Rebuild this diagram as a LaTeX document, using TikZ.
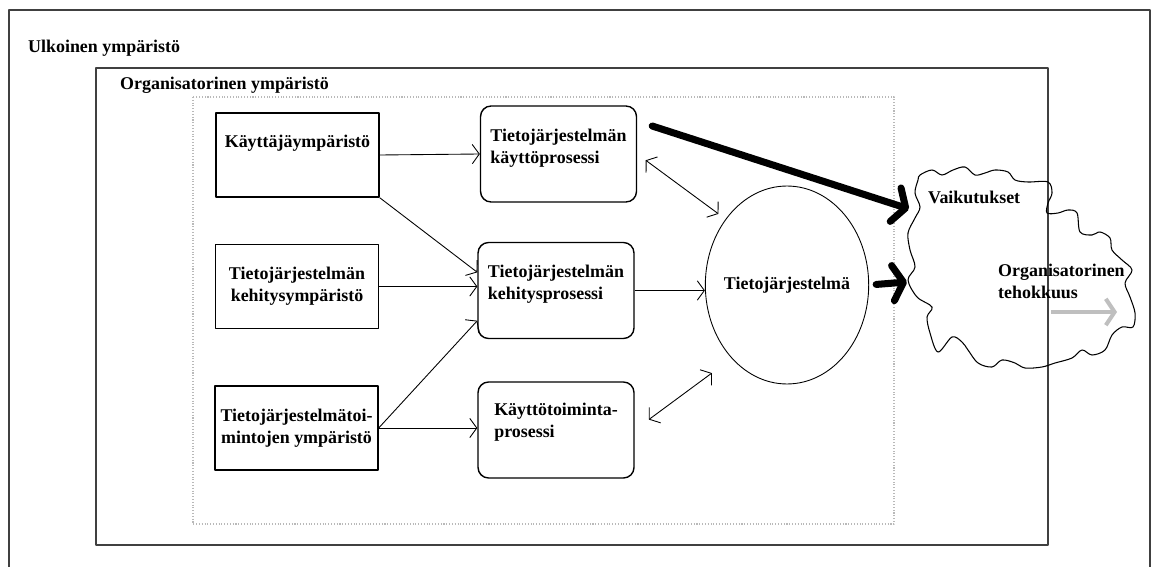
\documentclass[tikz,border=0pt]{standalone}
\usepackage{fontspec}
\setmainfont{Liberation Serif}
\usetikzlibrary{arrows.meta,shapes.geometric}

% text block moved up inside its box
\newcommand{\lift}[2]{\raisebox{#1}[\height][\depth]{\begin{tabular}{@{}l@{}}#2\end{tabular}}}

\tikzset{
  frameline/.style={line width=1pt,black!75},
  envbox/.style={draw,line width=0.8pt,minimum width=3.26cm,minimum height=1.68cm,align=center,inner sep=2pt},
  procbox/.style={draw,line width=0.8pt,rounded corners=6pt,minimum width=3.12cm,minimum height=1.92cm,inner sep=2pt},
  sysell/.style={draw,ellipse,line width=0.5pt,minimum width=3.04cm,minimum height=3.96cm,inner xsep=-3pt,inner ysep=0pt},
  conn/.style={line width=0.5pt,->},
  biconn/.style={line width=0.5pt,<->},
  bigarrow/.style={line width=4pt,line cap=round,-{Straight Barb[length=6pt,width=20pt,round]}},
  greyarrow/.style={line width=2.3pt,color=black!25,-{Straight Barb[length=5pt,width=15pt]}},
}

\begin{document}
\begin{tikzpicture}[x=0.02cm,y=-0.02cm,line join=round,
  >={Straight Barb[length=4pt,width=11pt]},
  font=\fontsize{10.2}{12.5}\selectfont\bfseries]
\useasboundingbox (0,0) rectangle (1151,567);

% frames
\draw[frameline] (9,567) -- (9,10) -- (1150,10) -- (1150,567);
\draw[frameline] (96,68) rectangle (1048,545);
\draw[gray!55,line width=0.6pt,densely dotted] (193,97) rectangle (894,524);
\node[anchor=west] (ulk) at (22,48) {Ulkoinen ympäristö};
\node[anchor=west] (org) at (114,85) {Organisatorinen ympäristö};

% environments
\node[envbox] (kenv) at (297.5,155) {\lift{6.5pt}{Käyttäjäympäristö}};
\node[envbox] (kehenv) at (297,286.5) {Tietojärjestelmän\\kehitysympäristö};
\node[envbox] (tenv) at (296.5,428) {Tietojärjestelmätoi-\\mintojen ympäristö};

% processes
\node[procbox] (kproc) at (558.5,154) {\lift{3.5pt}{Tietojärjestelmän\\käyttöprosessi}};
\node[procbox] (kehproc) at (556,290.5) {\lift{3.5pt}{Tietojärjestelmän\\kehitysprosessi}};
\node[procbox] (tproc) at (556,430) {\lift{4.5pt}{Käyttötoiminta-\\prosessi}};

\node[sysell] (tj) at (787,285) {Tietojärjestelmä};

% cloud
\draw[line width=0.6pt] plot[smooth cycle,tension=0.55] coordinates {
  (920,175) (932,170) (942,175) (953,170) (965,167) (975,175) (985,173) (995,170)
  (1008,172) (1015,180) (1028,182) (1048,182) (1052,193) (1048,203) (1047,213)
  (1058,213) (1068,210) (1077,213) (1080,232) (1092,235) (1100,232) (1110,238)
  (1112,250) (1122,260) (1132,270) (1125,283) (1130,297) (1135,313) (1133,327)
  (1122,327) (1112,335) (1105,350) (1092,355) (1082,350) (1072,358) (1055,363)
  (1042,367) (1025,368) (1015,363) (1002,360) (992,367) (978,363) (968,350)
  (962,342) (952,337) (938,352) (930,333) (927,317) (932,307) (917,297) (908,280)
  (915,267) (910,250) (908,233) (915,218) (920,207) (915,193) (918,180)};
\node[anchor=west] (vaik) at (922,197) {Vaikutukset};
\node[anchor=west,align=left] (teho) at (992,281) {Organisatorinen\\tehokkuus};
\coordinate (vaikin) at (909,209);
\coordinate (vaikmid) at (907,282);
\coordinate (tehoa) at (1051,312);
\coordinate (tehob) at (1117,312);

% connectors
\draw[conn] (kenv.east) -- (kproc.west);
\draw[conn] (kenv.south east) -- (kehproc.167);
\draw[conn] (kehenv.east) -- (kehenv.east -| kehproc.west);
\draw[conn] (tenv.east) -- (kehproc.201);
\draw[conn] (tenv.east) -- (tenv.east -| tproc.west);
\draw[conn] (kehproc.east) -- (kehproc.east -| tj.west);
\draw[biconn,shorten <=6pt,shorten >=5pt] (kproc.east) -- (tj.133);
\draw[biconn,shorten <=10pt,shorten >=14pt] (tproc.east) -- (tj.233);
\draw[bigarrow] ([shift={(15,-28)}]kproc.east) -- (vaikin);
\draw[bigarrow,shorten <=4pt] (tj.east) -- (vaikmid);
\draw[greyarrow] (tehoa) -- (tehob);
\end{tikzpicture}
\end{document}
